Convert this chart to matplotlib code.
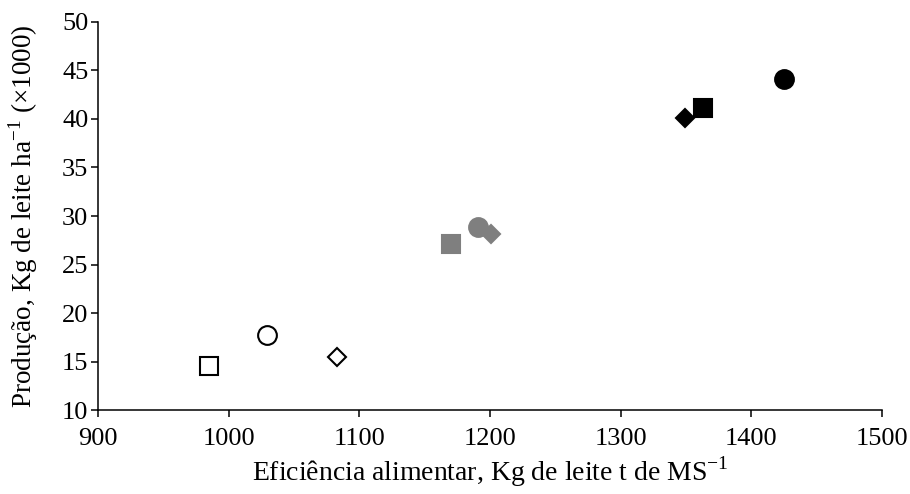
import matplotlib
matplotlib.use('Agg')
import matplotlib.pyplot as plt

plt.rcParams['font.family'] = ['Liberation Serif', 'DejaVu Serif']
plt.rcParams['mathtext.fontset'] = 'custom'
plt.rcParams['mathtext.rm'] = 'Liberation Serif'

# eficiência alimentar (kg leite / t MS) e produção (kg leite / ha, x1000)
eficiencia = [985, 1029, 1083, 1170, 1191, 1201, 1349, 1363, 1425]
producao = [14.5, 17.7, 15.5, 27.1, 28.9, 28.1, 40.1, 41.1, 44.1]
marcadores = ['s', 'o', 'D', 's', 'o', 'D', 'D', 's', 'o']
cores = ['white', 'white', 'white', '#7f7f7f', '#7f7f7f', '#7f7f7f', 'black', 'black', 'black']
bordas = ['black', 'black', 'black', '#7f7f7f', '#7f7f7f', '#7f7f7f', 'black', 'black', 'black']
tamanhos = {'s': 13.5, 'o': 13.5, 'D': 9.5}

fig = plt.figure(figsize=(9.1, 4.94), dpi=100)
ax = fig.add_axes([0.1077, 0.170, 0.8613, 0.7855])

for x, y, m, c, b in zip(eficiencia, producao, marcadores, cores, bordas):
    ax.plot(x, y, marker=m, markersize=tamanhos[m], markerfacecolor=c,
            markeredgecolor=b, markeredgewidth=1.5, linestyle='none')

ax.set_xlim(900, 1500)
ax.set_ylim(10, 50)
ax.set_xticks(range(900, 1501, 100))
ax.set_yticks(range(10, 51, 5))
ax.spines['top'].set_visible(False)
ax.spines['right'].set_visible(False)
ax.spines['left'].set_linewidth(1.1)
ax.spines['bottom'].set_linewidth(1.1)
ax.tick_params(direction='out', length=5, width=1.1, labelsize=19)
ax.tick_params(axis='x', pad=8)
ax.tick_params(axis='y', pad=2)
ax.set_xlabel('Eficiência alimentar, Kg de leite t de MS$^{\\mathregular{-1}}$', fontsize=20, labelpad=3)
ax.set_ylabel('Produção, Kg de leite ha$^{\\mathregular{-1}}$ (×1000)', fontsize=19.5, labelpad=16)

fig.savefig('out.png', dpi=100)
